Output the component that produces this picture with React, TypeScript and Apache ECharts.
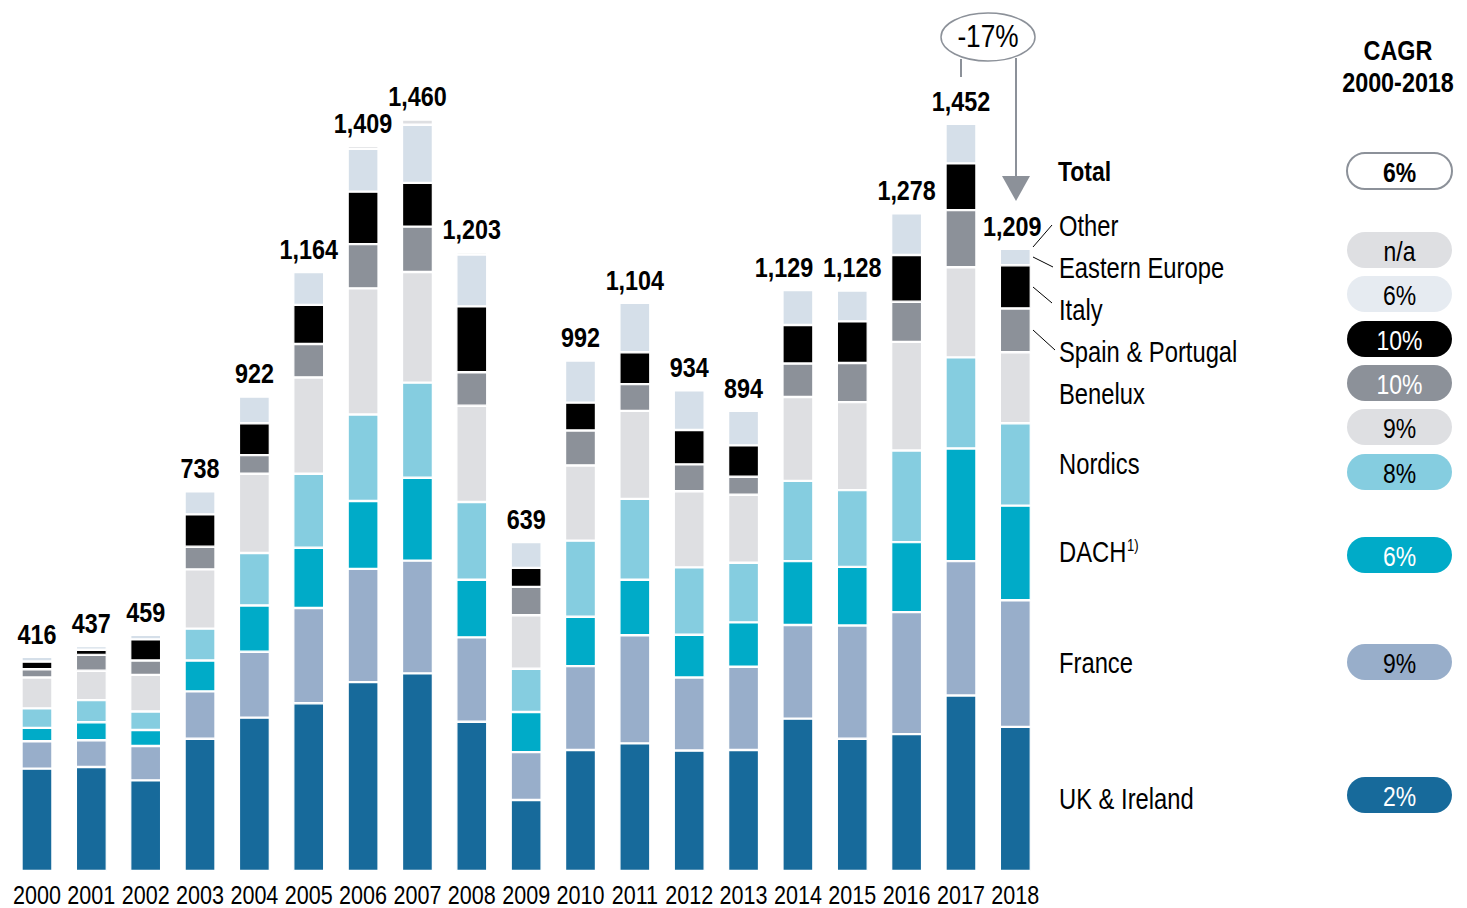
import React, { useEffect, useRef } from "react";
import * as echarts from "echarts";

const years = ["2000","2001","2002","2003","2004","2005","2006","2007","2008","2009","2010","2011","2012","2013","2014","2015","2016","2017","2018"];
const ukIreland = [199, 202, 176, 257, 298, 326, 367, 384, 290, 138, 235, 248, 234, 235, 296, 257, 266, 341, 280];
const france = [53, 52, 67, 92, 128, 185, 220, 219, 164, 93, 163, 210, 142, 162, 182, 220, 237, 261, 246];
const dach = [26, 35, 31, 60, 90, 117, 132, 161, 112, 78, 96, 108, 83, 86, 124, 114, 136, 219, 184];
const nordics = [38, 43, 36, 62, 102, 144, 168, 185, 151, 84, 148, 157, 131, 116, 156, 149, 178, 177, 160];
const benelux = [60, 57, 71, 115, 154, 187, 245, 215, 187, 104, 146, 171, 148, 132, 163, 171, 211, 175, 138];
const spainPortugal = [16, 31, 28, 44, 36, 65, 86, 88, 65, 55, 68, 52, 52, 35, 65, 76, 78, 111, 85];
const italy = [15, 10, 41, 63, 62, 76, 102, 85, 128, 37, 54, 62, 67, 61, 75, 81, 91, 91, 84];
const easternEurope = [9, 7, 9, 45, 52, 64, 83, 113, 101, 50, 82, 96, 77, 67, 68, 60, 81, 77, 32];
const other = [0, 0, 0, 0, 0, 0, 6, 10, 5, 0, 0, 0, 0, 0, 0, 0, 0, 0, 0];
const totals = [416, 437, 459, 738, 922, 1164, 1409, 1460, 1203, 639, 992, 1104, 934, 894, 1129, 1128, 1278, 1452, 1209];

const regionNames = ["UK & Ireland", "France", "DACH", "Nordics", "Benelux", "Spain & Portugal", "Italy", "Eastern Europe", "Other"];
const regionColors = ["#176a9b", "#98aeca", "#00abc8", "#85cde0", "#dedfe2", "#8c9199", "#000000", "#d5dfe9", "#dedfe2"];
const cagrValues = ["2%", "9%", "6%", "8%", "9%", "10%", "10%", "6%", "n/a"];
const cagrTextColors = ["#fff", "#000", "#fff", "#000", "#000", "#fff", "#fff", "#000", "#000"];
const cagrPillColors = ["#176a9b", "#98aeca", "#00abc8", "#85cde0", "#dedfe2", "#8c9199", "#000000", "#e6ebf1", "#dedfe2"];
const totalCagr = "6%";
const changeLabel = "-17%";

const FONT = "'Liberation Sans', Arial, sans-serif";
const NARROW = 0.82;

// layout (vertical centres of right-hand legend rows, bottom-up)
const legendY = [799, 663, 552, 464, 394, 352, 310, 268, 226];
const pillY = [795, 662, 555, 472, 427, 383, 339, 294, 250];
// horizontal nudges of total labels (layout only), by bar index
const totalLabelShift: Record<number, number> = { 14: -14, 18: -3 };

export default function App() {
  const ref = useRef<HTMLDivElement>(null);
  useEffect(() => {
    document.body.style.margin = "0";
    const chart = echarts.init(ref.current!, null, { renderer: "svg" });
    const seriesData = [ukIreland, france, dach, nordics, benelux, spainPortugal, italy, easternEurope, other];

    const graphic: any[] = [];
    const txt = (x: number, y: number, text: string, opts: any = {}) => ({
      type: "text",
      x,
      y,
      scaleX: NARROW,
      style: {
        text,
        fontFamily: FONT,
        fontSize: opts.fontSize || 29,
        fontWeight: opts.fontWeight || "normal",
        fill: opts.fill || "#000",
        align: opts.align || "left",
        textAlign: opts.align || "left",
        verticalAlign: "middle",
        textVerticalAlign: "middle",
      },
    });

    // legend labels
    regionNames.forEach((n, i) => {
      graphic.push(txt(1059, legendY[i], n));
    });
    graphic.push(txt(1127, 546, "1)", { fontSize: 16 }));
    graphic.push(txt(1058, 171, "Total", { fontWeight: "bold", fontSize: 28 }));

    // leader lines
    const leaders = [
      [1033, 247, 1052, 225],
      [1033, 257, 1053, 267],
      [1033, 287, 1052, 303],
      [1033, 330, 1055, 350],
    ];
    leaders.forEach((l) =>
      graphic.push({ type: "line", shape: { x1: l[0], y1: l[1], x2: l[2], y2: l[3] }, style: { stroke: "#000", lineWidth: 1 } })
    );

    // CAGR header
    graphic.push(txt(1398, 50, "CAGR", { fontWeight: "bold", align: "center", fontSize: 28.5 }));
    graphic.push(txt(1398, 82, "2000-2018", { fontWeight: "bold", align: "center", fontSize: 28.5 }));

    // pills
    const pw = 105, ph = 36;
    cagrValues.forEach((v, i) => {
      graphic.push({
        type: "rect",
        shape: { x: 1347, y: pillY[i] - ph / 2, width: pw, height: ph, r: ph / 2 },
        style: { fill: cagrPillColors[i] },
      });
      graphic.push(txt(1399.5, pillY[i] + 1, v, { fill: cagrTextColors[i], align: "center", fontSize: 28 }));
    });
    graphic.push({
      type: "rect",
      shape: { x: 1347, y: 171 - ph / 2, width: pw, height: ph, r: ph / 2 },
      style: { fill: "#fff", stroke: "#8c9199", lineWidth: 2 },
    });
    graphic.push(txt(1399.5, 172, totalCagr, { fontWeight: "bold", align: "center", fontSize: 28 }));

    // change annotation
    graphic.push({
      type: "ellipse",
      shape: { cx: 988, cy: 37, rx: 47, ry: 24 },
      style: { fill: "#fff", stroke: "#8c9199", lineWidth: 1.5 },
    });
    graphic.push(txt(988, 36, changeLabel, { fontSize: 32, align: "center" }));
    graphic.push({ type: "line", shape: { x1: 961, y1: 59, x2: 961, y2: 77 }, style: { stroke: "#8c9199", lineWidth: 2 } });
    graphic.push({ type: "line", shape: { x1: 1016, y1: 58, x2: 1016, y2: 178 }, style: { stroke: "#8c9199", lineWidth: 2 } });
    graphic.push({
      type: "polygon",
      shape: { points: [[1002, 176], [1030, 176], [1016, 201]] },
      style: { fill: "#8c9199" },
    });

    const textEl = (x: number, y: number, text: string, size: number, weight: string) => ({
      type: "text",
      x,
      y,
      scaleX: NARROW,
      style: {
        text,
        fontFamily: FONT,
        fontSize: size,
        fontWeight: weight,
        fill: "#000",
        align: "center",
        textAlign: "center",
        verticalAlign: "middle",
        textVerticalAlign: "middle",
      },
    });

    chart.setOption({
      animation: false,
      grid: { left: 9.8, right: 424.5, top: 99, bottom: 37 },
      xAxis: {
        type: "category",
        data: years,
        axisLine: { show: false },
        axisTick: { show: false },
        axisLabel: { show: false },
      },
      yAxis: { type: "value", min: 0, max: 1500, show: false, splitLine: { show: false } },
      series: [
        ...regionNames.map((n, i) => ({
          name: n,
          type: "bar",
          stack: "total",
          barWidth: 31,
          data: seriesData[i],
          itemStyle: { color: regionColors[i], borderColor: "#fff", borderWidth: 1.2 },
        })),
        {
          name: "Total",
          type: "custom",
          clip: false,
          data: totals.map((t, i) => [i, t]),
          encode: { x: 0, y: 1 },
          renderItem: (params: any, api: any) => {
            const p = api.coord([api.value(0), api.value(1)]);
            const dx = totalLabelShift[params.dataIndex] || 0;
            return textEl(p[0] + dx, p[1] - 23, Number(api.value(1)).toLocaleString("en-US"), 28.5, "bold");
          },
        },
        {
          name: "Year",
          type: "custom",
          clip: false,
          data: years.map((y, i) => [i, 0]),
          encode: { x: 0, y: 1 },
          renderItem: (params: any, api: any) => {
            const p = api.coord([api.value(0), 0]);
            return textEl(p[0], p[1] + 23.5, years[params.dataIndex], 26.3, "normal");
          },
        },
      ],
      graphic,
    });
    return () => chart.dispose();
  }, []);
  return <div ref={ref} style={{ width: 1467, height: 908 }} />;
}
